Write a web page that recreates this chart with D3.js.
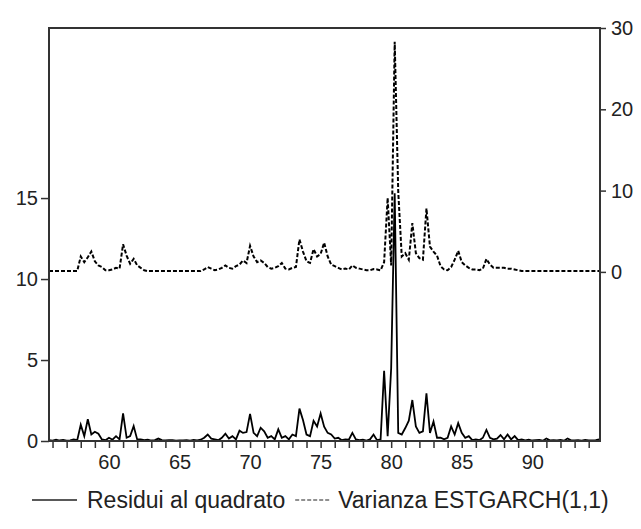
<!DOCTYPE html>
<html>
<head>
<meta charset="utf-8">
<script src="https://cdn.jsdelivr.net/npm/d3@7"></script>
<style>
  html, body { margin: 0; padding: 0; background: #fff; }
  svg { display: block; font-family: "Liberation Sans", Arial, sans-serif; }
</style>
</head>
<body>
<svg id="chart" width="641" height="529"></svg>
<script>
// ---- data (quarterly observations, starting 1955 Q4) ----
const startYear = 55.75;
const step = 0.25;

const residuiQuadrato = [
  0.05,0.02,0.08,0.03,0.06,0.02,0.04,0.10,0.05,1.00,
  0.30,1.34,0.40,0.57,0.45,0.10,0.05,0.20,0.08,0.30,
  0.10,1.70,0.20,0.30,0.92,0.10,0.10,0.05,0.08,0.03,
  0.05,0.15,0.05,0.04,0.06,0.05,0.02,0.04,0.03,0.05,
  0.02,0.06,0.04,0.08,0.20,0.40,0.15,0.10,0.05,0.20,
  0.45,0.15,0.30,0.10,0.64,0.50,0.55,1.67,0.50,0.30,
  0.82,0.60,0.20,0.30,0.10,0.72,0.20,0.30,0.10,0.40,
  0.30,2.00,1.30,0.40,0.30,1.25,0.90,1.70,0.88,0.50,
  0.40,0.15,0.20,0.05,0.10,0.08,0.50,0.10,0.05,0.08,
  0.03,0.10,0.40,0.05,0.10,4.34,0.30,4.50,15.30,0.50,
  0.40,0.80,1.25,2.53,0.90,0.50,0.60,2.94,0.50,1.20,
  0.20,0.20,0.10,0.20,0.90,0.40,1.10,0.50,0.20,0.30,
  0.05,0.10,0.05,0.20,0.68,0.20,0.10,0.15,0.37,0.10,
  0.40,0.10,0.30,0.05,0.10,0.04,0.08,0.03,0.05,0.06,
  0.02,0.15,0.04,0.05,0.03,0.06,0.02,0.15,0.04,0.03,
  0.05,0.02,0.06,0.03,0.04,0.05,0.10
];

const varianzaEstgarch = [
  0.10,0.10,0.10,0.10,0.10,0.10,0.10,0.10,0.10,1.90,
  1.20,1.80,2.50,1.30,0.80,0.60,0.20,0.20,0.30,0.50,
  0.40,3.40,2.00,1.00,1.60,0.80,0.50,0.20,0.10,0.10,
  0.10,0.10,0.10,0.10,0.10,0.10,0.10,0.10,0.10,0.10,
  0.10,0.10,0.10,0.10,0.30,0.60,0.40,0.20,0.30,0.50,
  0.80,0.50,0.40,0.70,0.90,1.40,1.10,3.20,1.90,1.20,
  1.40,1.10,0.60,0.40,0.50,0.70,1.10,0.40,0.30,0.50,
  0.60,4.00,2.50,1.30,1.10,2.80,1.90,2.20,3.60,1.90,
  0.90,0.70,0.50,0.30,0.40,0.30,0.80,0.50,0.40,0.30,
  0.20,0.20,0.35,0.30,0.20,1.20,9.10,0.80,28.30,9.90,
  1.90,2.30,1.50,6.00,2.30,1.70,1.50,7.80,3.10,2.50,
  2.00,0.70,0.30,0.20,0.60,1.50,2.60,1.20,0.80,0.50,
  0.30,0.30,0.20,0.40,1.60,0.90,0.50,0.50,0.50,0.50,
  0.40,0.40,0.30,0.20,0.10,0.10,0.10,0.10,0.10,0.10,
  0.10,0.10,0.10,0.10,0.10,0.10,0.10,0.10,0.10,0.10,
  0.10,0.10,0.10,0.10,0.10,0.10,0.10
];

const leftTicks = [0, 5, 10, 15];
const rightTicks = [0, 10, 20, 30];
const yearLabels = [60, 65, 70, 75, 80, 85, 90];
const legendLabels = ["Residui al quadrato", "Varianza ESTGARCH(1,1)"];

// ---- layout ----
const L = 49, R = 600, T = 28, B = 441;
const fontSize = 20;
const legendFontSize = 23;

const svg = d3.select("#chart");

const x = d3.scaleLinear().domain([55.75, 94.8]).range([L, R]);
const yL = d3.scaleLinear().domain([0, 25.5]).range([B, T]);
const yR = d3.scaleLinear().domain([-20.8, 30]).range([B, T]);

const years = d3.range(56, 95);

// series
const lineL = d3.line()
  .x((d, i) => x(startYear + i * step))
  .y(d => yL(d));
const lineR = d3.line()
  .x((d, i) => x(startYear + i * step))
  .y(d => yR(d));

svg.append("path")
  .datum(varianzaEstgarch)
  .attr("d", lineR)
  .attr("fill", "none")
  .attr("stroke", "#000")
  .attr("stroke-width", 2)
  .attr("stroke-dasharray", "4,2");

svg.append("path")
  .datum(residuiQuadrato)
  .attr("d", lineL)
  .attr("fill", "none")
  .attr("stroke", "#000")
  .attr("stroke-width", 1.8);

// axes
const axColor = "#333";

const xAxis = d3.axisBottom(x)
  .tickValues(years)
  .tickSize(7)
  .tickFormat(d => yearLabels.includes(d) ? d : "");
const gx = svg.append("g").attr("transform", `translate(0,${B})`).call(xAxis);
gx.select(".domain").remove();
gx.selectAll(".tick line").attr("stroke", axColor).attr("stroke-width", 1.5);
gx.selectAll(".tick text")
  .attr("font-size", fontSize)
  .attr("font-family", "Liberation Sans, Arial, sans-serif")
  .attr("fill", "#222")
  .attr("y", 14);

const leftAxis = d3.axisLeft(yL).tickValues(leftTicks).tickSize(8).tickPadding(3);
const gl = svg.append("g").attr("transform", `translate(${L},0)`).call(leftAxis);
gl.select(".domain").remove();
gl.selectAll(".tick line").attr("stroke", axColor).attr("stroke-width", 1.5);
gl.selectAll(".tick text")
  .attr("font-size", fontSize)
  .attr("font-family", "Liberation Sans, Arial, sans-serif")
  .attr("fill", "#222");

const rightAxis = d3.axisRight(yR).tickValues(rightTicks).tickSize(6).tickPadding(5);
const gr = svg.append("g").attr("transform", `translate(${R},0)`).call(rightAxis);
gr.select(".domain").remove();
gr.selectAll(".tick line").attr("stroke", axColor).attr("stroke-width", 1.5);
gr.selectAll(".tick text")
  .attr("font-size", fontSize)
  .attr("font-family", "Liberation Sans, Arial, sans-serif")
  .attr("fill", "#222");

// frame
svg.append("rect")
  .attr("x", L).attr("y", T)
  .attr("width", R - L).attr("height", B - T)
  .attr("fill", "none")
  .attr("stroke", axColor)
  .attr("stroke-width", 2);

// legend
const legY = 500;
const lg = svg.append("g");
let cx = 32;
lg.append("line").attr("x1", cx).attr("x2", cx + 45).attr("y1", legY).attr("y2", legY)
  .attr("stroke", "#222").attr("stroke-width", 1.5);
cx += 55;
const t1 = lg.append("text").attr("x", cx).attr("y", legY).attr("dy", "0.35em")
  .attr("font-size", legendFontSize).attr("fill", "#222").text(legendLabels[0]);
cx += t1.node().getComputedTextLength() + 10;
lg.append("line").attr("x1", cx).attr("x2", cx + 36).attr("y1", legY).attr("y2", legY)
  .attr("stroke", "#222").attr("stroke-width", 1.2).attr("stroke-dasharray", "4,2");
cx += 43;
lg.append("text").attr("x", cx).attr("y", legY).attr("dy", "0.35em")
  .attr("font-size", legendFontSize).attr("fill", "#222").text(legendLabels[1]);
</script>
</body>
</html>
